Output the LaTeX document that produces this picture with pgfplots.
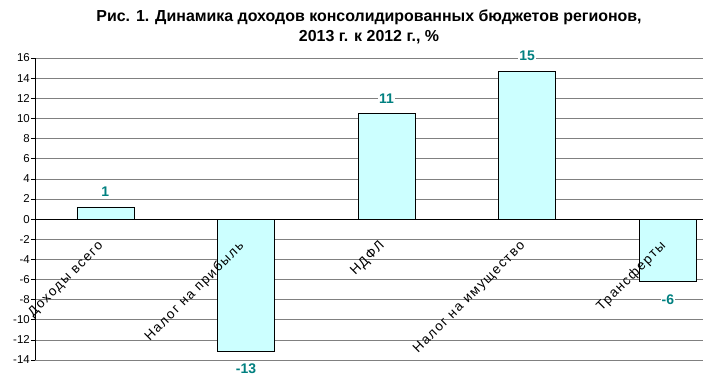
\documentclass[border=0pt]{standalone}
\usepackage{fontspec}
\setmainfont{Liberation Sans}
\newfontfamily\spacedfont[LetterSpace=11]{Liberation Sans}
\usepackage{pgfplots}
\pgfplotsset{compat=1.18}
\definecolor{barfill}{RGB}{204,255,255}
\definecolor{vallab}{RGB}{0,128,128}
\definecolor{gridc}{RGB}{128,128,128}
\begin{document}
\begin{tikzpicture}[x=1bp,y=1bp]
\begin{axis}[
  at={(0,0)}, anchor=south west,
  scale only axis,
  width=668bp, height=302bp,
  xmin=-0.5, xmax=4.25,
  ymin=-14, ymax=16,
  ytick={-14,-12,...,16},
  xtick=\empty,
  axis x line=middle,
  axis y line=left,
  axis line style={-, black, line width=0.8pt},
  y tick style={black, line width=0.6pt},
  tick align=outside,
  major tick length=4bp,
  ymajorgrids,
  grid style={gridc, line width=0.6pt},
  /pgf/number format/assume math mode=true,
  yticklabel style={font=\fontsize{11.5}{13}\selectfont, inner sep=1pt},
  title={Рис. 1. Динамика доходов консолидированных бюджетов регионов,\\2013 г. к 2012 г., \%},
  title style={font=\bfseries\fontsize{16}{20}\selectfont, align=center, at={(0.5,1)}, anchor=south, yshift=5bp},
  ybar,
  bar width=57bp,
  point meta=explicit symbolic,
]
\addplot[fill=barfill, draw=black, line width=0.6pt, bar shift=0pt,
  nodes near coords,
  nodes near coords style={font=\bfseries\fontsize{14}{16}\selectfont, text=vallab, fill=white, inner sep=1pt, anchor=south, yshift=9bp}]
  coordinates {
  (0,1.2) [1]
  (2,10.5) [11]
  (3,14.7) [15]
};
\addplot[fill=barfill, draw=black, line width=0.6pt, bar shift=0pt,
  nodes near coords,
  nodes near coords style={font=\bfseries\fontsize{14}{16}\selectfont, text=vallab, fill=white, inner sep=1pt, anchor=north, yshift=-12bp}]
  coordinates {
  (1,-13.1) [-13]
  (4,-6.2) [-6]
};
% category names, drawn above the bars
\addplot[draw=none, fill=none, bar shift=0pt,
  nodes near coords,
  nodes near coords style={font=\spacedfont\fontsize{13.5}{15}\selectfont, text=black, xshift=-4bp, yshift=-25bp, rotate=45, anchor=east, inner sep=0pt}]
  coordinates {
  (0,0) [Доходы всего]
  (1,0) [Налог на прибыль]
  (2,0) [НДФЛ]
  (3,0) [Налог на имущество]
  (4,0) [Трансферты]
};
\end{axis}
\pgfresetboundingbox
\path (-35,-19) rectangle (673,360);
\end{tikzpicture}
\end{document}
